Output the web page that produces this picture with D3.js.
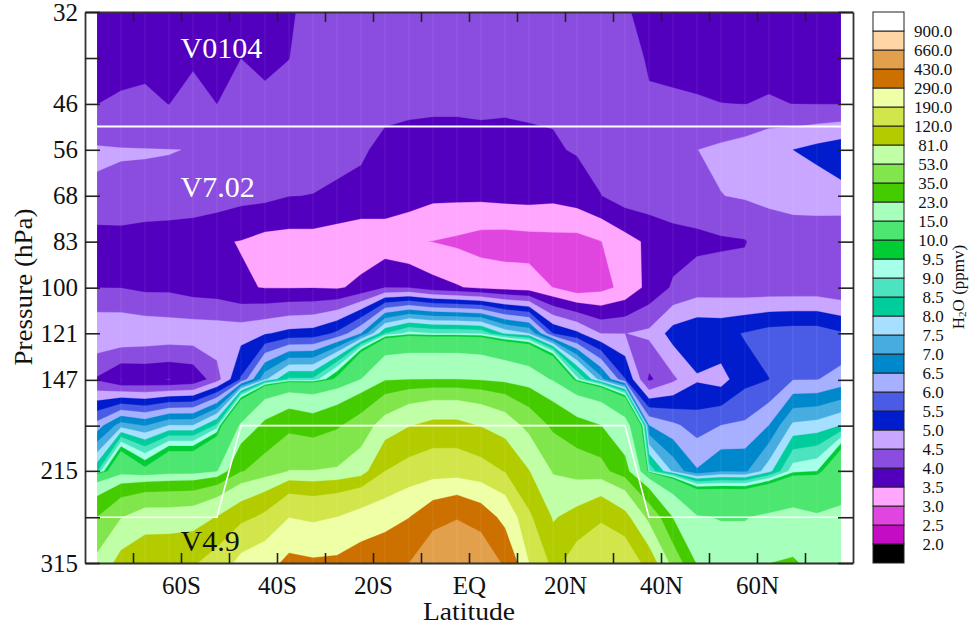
<!DOCTYPE html>
<html>
<head>
<meta charset="utf-8">
<script src="https://cdn.jsdelivr.net/npm/d3@7"></script>
<style>
  body { margin: 0; background: #fff; }
  text { font-family: "Liberation Serif", serif; fill: #111; }
</style>
</head>
<body>
<div id="wrapper"></div>
<script>
// grid: one array per pressure level, one value per latitude bin (ppmv)
const lats = d3.range(32).map(i => -77.5 + i * 5);
const pressures = [31.6, 38.3, 46.4, 56.2, 68.1, 82.5, 100, 121, 147, 178, 215, 261, 316];
const pressureLabels = ["32", "", "46", "56", "68", "83", "100", "121", "147", "", "215", "", "315"];

const p32 = [3.8,3.8,3.8,3.8,3.8,3.8,3.8,3.8,3.85,4.37,4.2,4.2,4.2,4.2,4.2,4.2,4.2,4.2,4.2,4.2,4.2,4.2,4.05,3.85,3.85,3.85,3.85,3.85,3.85,3.85,3.85,3.85];
const p38 = [3.8,3.8,3.85,3.8,3.9,3.8,3.995,3.9,3.99,4.3,4.3,4.3,4.3,4.3,4.3,4.3,4.3,4.3,4.3,4.3,4.3,4.3,4.2,3.947,3.85,3.85,3.8,3.8,3.85,3.8,3.8,3.8];
const p46 = [3.995,4.08,4.115,3.99,4.24,3.995,4.3,4.1,4.2,4.2,4.2,4.2,4.2,4.16,4.155,4.155,4.215,4.17,4.21,4.06,4.2,4.2,4.2,4.053,4.08,4.04,4.005,3.995,4.04,3.995,3.99,3.99];
const p56 = [4.55,4.52,4.51,4.505,4.495,4.4,4.35,4.3,4.25,4.2,4.2,4.1,3.8,3.7,3.6,3.6,3.6,3.6,3.7,3.95,4.04,4.2,4.3,4.35,4.4,4.495,4.59,4.7,4.9,5.0,5.15,5.3];
const p68 = [4.445,4.44,4.46,4.46,4.4,4.26,4.15,4.12,4.01,3.99,3.89,3.8,3.8,3.75,3.6,3.6,3.61,3.65,3.67,3.63,3.75,3.99,4.25,4.28,4.3,4.3,4.49,4.55,4.57,4.62,4.7,4.84];
const p83 = [3.74,3.76,3.65,3.6,3.57,3.55,3.48,3.33,3.3,3.31,3.25,3.2,3.2,3.04,2.99,2.91,2.79,2.77,2.81,2.84,2.82,2.99,3.3,3.6,3.8,3.88,3.93,3.97,4.32,4.33,4.24,4.05];
const p100 = [3.995,3.99,3.9,3.9,3.78,3.73,3.55,3.48,3.47,3.48,3.44,3.62,3.99,3.98,3.69,3.54,3.39,3.29,3.21,2.995,2.7,2.85,3.13,3.65,4.06,4.25,4.25,4.2,4.2,4.2,4.2,4.1];
const p121 = [4.93,4.93,4.87,4.82,4.82,4.8,4.8,4.95,5.15,5.2,5.6,6.5,8.5,9.2,9,9,8.9,7.9,7.5,5.5,5.1,4.49,4.49,4.6,5.2,5.4,5.37,5.53,5.7,5.75,5.75,5.55];
const p147 = [3.94,3.495,3.55,3.49,3.6,4.29,5.55,7.4,8.6,8.6,10.3,15,22,22.8,23,23,22,20,18,14.5,9.2,7.2,5.52,3.9,4.4,4.94,4.8,5.35,5.49,5.98,5.98,6.2];
const p178 = [6.2,7.25,6.95,7.5,7.5,8.6,15.5,25,31,28,33,42,62,79,89,89,79,66,46,32,26,23,17,6.5,6.1,5.78,6,6.08,6.5,7.6,7.7,8];
const p215 = [8.4,12.1,10.3,11.9,11.9,14.5,34,41.4,53.5,53.5,55,65,120,138,151,151,138,118,82,51,44,40,26,8.9,7.4,6.55,6.95,6.9,7.8,9.3,9.5,11.8];
const p261 = [35,52,64,64,66,82,105,130,188,175,190,220,239,287,370,420,355,256,127,78,92,115,90,46,22.5,15.3,14.8,14.8,15.7,16.5,15.5,16.1];
const p316 = [58,92,108,110,115,140,213,245,318,305,310,350,393,430,570,600,582,399,190,104,145,155,160,100,44,22,17,17,22.9,24,20,19];

const levels = [2, 2.5, 3, 3.5, 4, 4.5, 5, 5.5, 6, 6.5, 7, 7.5, 8, 8.5, 9, 9.5, 10, 15, 23, 35, 53, 81, 120, 190, 290, 430, 660, 900];
const colors = ["#000000", "#c40cc4", "#e045e0", "#ffa6ff", "#5200bd", "#8b4de0", "#c9a6ff", "#001ccc", "#4a5ce6", "#a6b0ff",
  "#0088cc", "#47ace0", "#a6dfff", "#00cc9c", "#4ce3c0", "#a6ffe8", "#00cc33", "#4ce670", "#a6ffba", "#44cc00",
  "#80e64c", "#c0ffa6", "#b3cc00", "#d2e64c", "#efffa6", "#cc7000", "#e3a04c", "#ffd5a6", "#ffffff"];

// version boundaries
const topBoundaryP = 51;
const lowBoundaryLat = [-77.5, -52.5, -47.5, 32.5, 37.5, 77.5];
const lowBoundaryP = [261, 261, 178, 178, 261, 261];

const latTicks = d3.range(-70, 71, 10);
const latNames = { "-60": "60S", "-40": "40S", "-20": "20S", "0": "EQ", "20": "20N", "40": "40N", "60": "60N" };

const rows = [p32, p38, p46, p56, p68, p83, p100, p121, p147, p178, p215, p261, p316];
const values = rows.flat();

const margin = { top: 12, right: 117, bottom: 62, left: 85 };
const width = 970 - margin.left - margin.right;
const height = 625 - margin.top - margin.bottom;

const svg = d3.select(`#wrapper`)
  .append(`svg`)
  .attr(`width`, 970)
  .attr(`height`, 625)
  .style(`display`, `block`)
  .append(`g`)
  .attr(`transform`, `translate(${margin.left}, ${margin.top})`);

const xScale = d3.scaleLinear().domain([-80, 80]).range([0, width]);
const yScale = d3.scaleLog().domain([31.6, 316]).range([0, height]);

svg.append(`clipPath`)
  .attr(`id`, `plot-clip`)
  .append(`rect`)
  .attr(`x`, xScale(-77.5))
  .attr(`y`, 0)
  .attr(`width`, xScale(77.5) - xScale(-77.5))
  .attr(`height`, height);

const plot = svg.append(`g`).attr(`clip-path`, `url(#plot-clip)`);

// contour coords have grid nodes at i + 0.5
const project = d3.geoTransform({
  point(cx, cy) {
    const lat = lats[0] + (cx - 0.5) * 5;
    const p = pressures[0] * Math.pow(pressures[12] / pressures[0], (cy - 0.5) / 12);
    this.stream.point(xScale(lat), yScale(p));
  }
});
const path = d3.geoPath(project);

const contours = d3.contours().size([lats.length, pressures.length]).thresholds(levels)(values);

plot.selectAll(`path.band`)
  .data(contours)
  .join(`path`)
  .attr(`class`, `band`)
  .attr(`d`, path)
  .attr(`fill`, (d, i) => colors[i + 1])
  .attr(`stroke`, (d, i) => colors[i + 1])
  .attr(`stroke-width`, 0.3);

// faint seams along the grid
plot.selectAll(`line.seam-v`)
  .data(lats)
  .join(`line`)
  .attr(`class`, `seam-v`)
  .attr(`x1`, d => xScale(d))
  .attr(`x2`, d => xScale(d))
  .attr(`y1`, 0)
  .attr(`y2`, height)
  .attr(`stroke`, `#fff`)
  .attr(`stroke-opacity`, 0.09);

// version boundary lines
const boundary = d3.line().x(d => xScale(d[0])).y(d => yScale(d[1]));
plot.append(`path`)
  .attr(`d`, boundary([[-77.5, topBoundaryP], [77.5, topBoundaryP]]))
  .attr(`fill`, `none`)
  .attr(`stroke`, `#fff`)
  .attr(`stroke-width`, 2);
plot.append(`path`)
  .attr(`d`, boundary(lowBoundaryLat.map((d, i) => [d, lowBoundaryP[i]])))
  .attr(`fill`, `none`)
  .attr(`stroke`, `#fff`)
  .attr(`stroke-width`, 1.6);

const versions = [
  { name: "V0104", lat: -60.1, p: 38.3, color: "#fff" },
  { name: "V7.02", lat: -60.1, p: 68.4, color: "#fff" },
  { name: "V4.9", lat: -60.1, p: 300, color: "#111" }
];
svg.selectAll(`text.version`)
  .data(versions)
  .join(`text`)
  .attr(`class`, `version`)
  .attr(`x`, d => xScale(d.lat))
  .attr(`y`, d => yScale(d.p))
  .style(`font-size`, `30px`)
  .style(`fill`, d => d.color)
  .text(d => d.name);

// axes, all ticks point inward
const styleAxis = g => {
  g.selectAll(`.domain`).attr(`stroke`, `#333`).attr(`stroke-width`, 1.8);
  g.selectAll(`.tick line`).attr(`stroke`, `#222`).attr(`stroke-width`, 1.6);
  g.selectAll(`text`).style(`font-family`, `"Liberation Serif", serif`).style(`font-size`, `25px`).style(`fill`, `#111`);
};

svg.append(`g`)
  .attr(`transform`, `translate(0, ${height})`)
  .call(d3.axisBottom(xScale).tickValues(latTicks).tickSize(-10).tickSizeOuter(0).tickPadding(13)
    .tickFormat(d => latNames[d] || ``))
  .call(styleAxis);
svg.append(`g`)
  .call(d3.axisTop(xScale).tickValues(latTicks).tickSize(-10).tickSizeOuter(0).tickFormat(``))
  .call(styleAxis);
svg.append(`g`)
  .call(d3.axisLeft(yScale).tickValues(pressures).tickSize(-15).tickSizeOuter(0).tickPadding(7)
    .tickFormat((d, i) => pressureLabels[i]))
  .call(styleAxis);
svg.append(`g`)
  .attr(`transform`, `translate(${width}, 0)`)
  .call(d3.axisRight(yScale).tickValues(pressures).tickSize(-15).tickSizeOuter(0).tickFormat(``))
  .call(styleAxis);

svg.append(`text`)
  .attr(`x`, xScale(0))
  .attr(`y`, 620 - margin.top)
  .attr(`text-anchor`, `middle`)
  .attr(`textLength`, 92)
  .attr(`lengthAdjust`, `spacingAndGlyphs`)
  .style(`font-size`, `25px`)
  .text(`Latitude`);

svg.append(`text`)
  .attr(`transform`, `translate(${32 - margin.left}, ${287 - margin.top}) rotate(-90)`)
  .attr(`text-anchor`, `middle`)
  .attr(`textLength`, 157)
  .attr(`lengthAdjust`, `spacingAndGlyphs`)
  .style(`font-size`, `25px`)
  .text(`Pressure (hPa)`);

// colour bar, one cell per band, labels sit on the cell edges
const barX = 873 - margin.left;
const barW = 31;
const barScale = d3.scaleBand().domain(d3.range(colors.length)).range([height, 0]);

svg.selectAll(`rect.cell`)
  .data(colors)
  .join(`rect`)
  .attr(`class`, `cell`)
  .attr(`x`, barX)
  .attr(`y`, (d, i) => barScale(i))
  .attr(`width`, barW)
  .attr(`height`, barScale.bandwidth())
  .attr(`fill`, d => d)
  .attr(`stroke`, `#222`)
  .attr(`stroke-width`, 1);

svg.selectAll(`text.level`)
  .data(levels)
  .join(`text`)
  .attr(`class`, `level`)
  .attr(`x`, 933 - margin.left)
  .attr(`y`, (d, i) => barScale(i))
  .attr(`dy`, `0.33em`)
  .attr(`text-anchor`, `middle`)
  .style(`font-size`, `17px`)
  .text(d => d3.format(`.1f`)(d));

const barTitle = svg.append(`text`)
  .attr(`transform`, `translate(${964 - margin.left}, ${287 - margin.top}) rotate(-90)`)
  .attr(`text-anchor`, `middle`)
  .style(`font-size`, `17px`);
barTitle.append(`tspan`).text(`H`);
barTitle.append(`tspan`).attr(`dy`, 2).style(`font-size`, `11px`).text(`2`);
barTitle.append(`tspan`).attr(`dy`, -2).text(`O (ppmv)`);
</script>
</body>
</html>
